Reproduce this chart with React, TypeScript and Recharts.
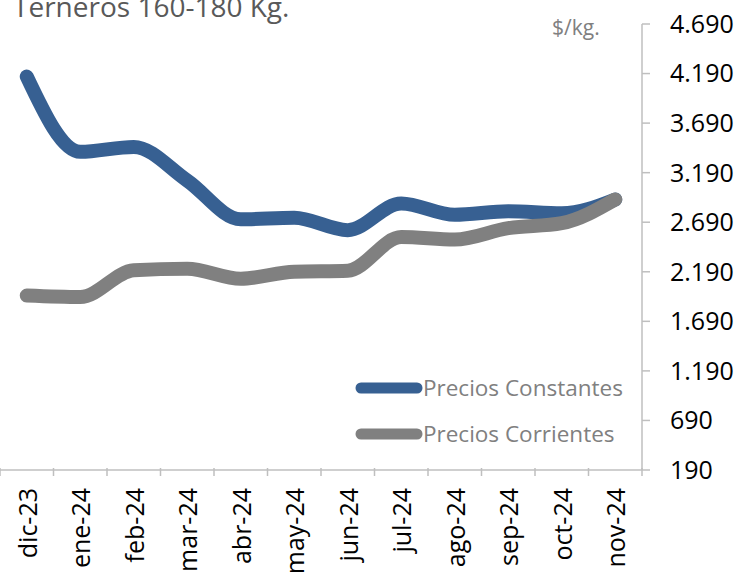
import { Line, LineChart, XAxis, YAxis } from "recharts";

// months shown on the category axis
const months = [
  "dic-23", "ene-24", "feb-24", "mar-24", "abr-24", "may-24",
  "jun-24", "jul-24", "ago-24", "sep-24", "oct-24", "nov-24",
];

// $/kg
const preciosConstantes = [4160, 3400, 3450, 3110, 2720, 2735, 2610, 2880, 2765, 2800, 2780, 2920];
const preciosCorrientes = [1950, 1935, 2205, 2220, 2120, 2190, 2200, 2540, 2515, 2630, 2680, 2920];

const yTicks = [190, 690, 1190, 1690, 2190, 2690, 3190, 3690, 4190, 4690];

const legendItems = ["Precios Constantes", "Precios Corrientes"];

const data = months.map((m, i) => ({
  mes: m,
  constantes: preciosConstantes[i],
  corrientes: preciosCorrientes[i],
}));

const W = 747;
const H = 574;
const Y_AXIS_W = 105;
const PLOT_W = W - Y_AXIS_W;
const BAND = PLOT_W / months.length;
const FONT = "'Open Sans', sans-serif";
const AXIS_GRAY = "#bfbfbf";
const BLUE = "#376092";
const GRAY = "#808080";
const COLORS = [BLUE, GRAY];

const fmt = (v: number) =>
  v >= 1000 ? `${Math.floor(v / 1000)}.${String(v % 1000).padStart(3, "0")}` : String(v);

function MonthTick(props: any) {
  const { x, y, payload, index } = props;
  const axisY = y - 10;
  return (
    <g>
      <line x1={x - BAND / 2} x2={x - BAND / 2} y1={axisY} y2={axisY + 8} stroke={AXIS_GRAY} strokeWidth={1.5} />
      {index === months.length - 1 && (
        <line x1={x + BAND / 2} x2={x + BAND / 2} y1={axisY} y2={axisY + 8} stroke={AXIS_GRAY} strokeWidth={1.5} />
      )}
      <text
        transform={`translate(${x + 1},${axisY + 20}) rotate(-90)`}
        textAnchor="end"
        dy="0.35em"
        fontSize={25}
        fontFamily={FONT}
        fill="#000"
      >
        {payload.value}
      </text>
    </g>
  );
}

export default function App() {
  return (
    <div style={{ position: "absolute", left: 0, top: 0, width: W, height: H, background: "#fff" }}>
      <LineChart width={W} height={H} data={data} margin={{ top: 24, right: 0, left: 0, bottom: 0 }}>
        <XAxis
          dataKey="mes"
          height={104}
          interval={0}
          padding={{ left: BAND / 2, right: BAND / 2 }}
          tickLine={false}
          axisLine={{ stroke: AXIS_GRAY, strokeWidth: 1.5 }}
          tick={<MonthTick />}
        />
        <YAxis
          orientation="right"
          width={Y_AXIS_W}
          domain={[190, 4690]}
          ticks={yTicks}
          interval={0}
          tickSize={8}
          tickMargin={20}
          tickFormatter={fmt}
          axisLine={{ stroke: AXIS_GRAY, strokeWidth: 1.5 }}
          tickLine={{ stroke: AXIS_GRAY, strokeWidth: 1.5 }}
          tick={{ fill: "#000", fontSize: 25, fontFamily: FONT }}
        />
        <Line
          type="monotone"
          dataKey="constantes"
          stroke={BLUE}
          strokeWidth={14}
          strokeLinecap="round"
          dot={false}
          activeDot={false}
          isAnimationActive={false}
        />
        <Line
          type="monotone"
          dataKey="corrientes"
          stroke={GRAY}
          strokeWidth={14}
          strokeLinecap="round"
          dot={false}
          activeDot={false}
          isAnimationActive={false}
        />
      </LineChart>
      <svg width={W} height={H} style={{ position: "absolute", left: 0, top: 0, pointerEvents: "none" }}>
        <text x={13} y={17} fontSize={28} fontFamily={FONT} fill="#595959">
          Terneros 160-180 Kg.
        </text>
        <text x={552} y={35} fontSize={21} fontFamily={FONT} fill={GRAY}>
          $/kg.
        </text>
        {legendItems.map((label, i) => (
          <g key={label} transform={`translate(361,${388 + i * 46})`}>
            <line x1={0} x2={56} y1={0} y2={0} stroke={COLORS[i]} strokeWidth={11} strokeLinecap="round" />
            <text x={62} y={0} dy="0.35em" fontSize={22.5} fontFamily={FONT} fill={GRAY}>
              {label}
            </text>
          </g>
        ))}
      </svg>
    </div>
  );
}
